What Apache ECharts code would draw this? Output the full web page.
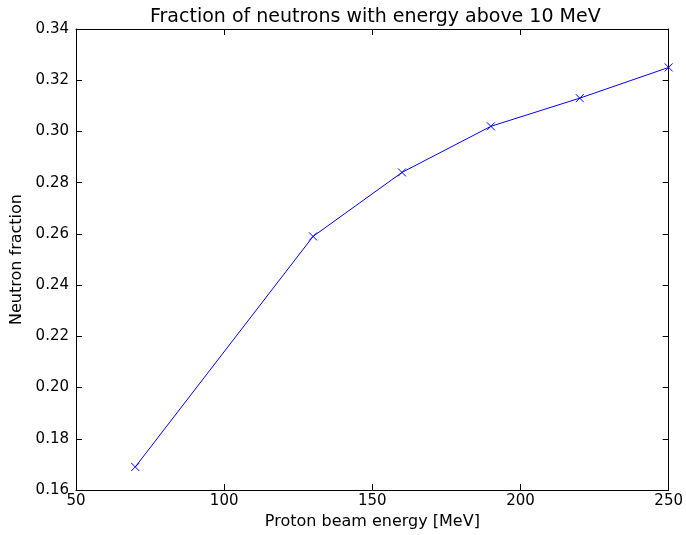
<!DOCTYPE html>
<html><head><meta charset="utf-8">
<script src="https://cdn.jsdelivr.net/npm/echarts@6/dist/echarts.min.js"></script>
<style>html,body{margin:0;padding:0;background:#fff}#c{width:686px;height:535px}</style>
</head><body><div id="c"></div>
<script>
const energies = [70, 130, 160, 190, 220, 250];
const fractions = [0.169, 0.259, 0.284, 0.302, 0.313, 0.325];
const title = 'Fraction of neutrons with energy above 10 MeV';
const xName = 'Proton beam energy [MeV]';
const yName = 'Neutron fraction';

const font = 'DejaVu Sans';
const chart = echarts.init(document.getElementById('c'), null, {renderer: 'canvas'});
const xSymbol = 'path://M0,0L10,10M10,0L0,10';
const axisLine = {show: true, onZero: false, lineStyle: {color: '#000', width: 1}};
const tickIn = {show: true, inside: true, length: 6, lineStyle: {color: '#000'}};
chart.setOption({
  animation: false,
  title: {text: title, left: 145, top: 3, textStyle: {fontFamily: font, fontSize: 19, fontWeight: 'normal', color: '#000'}},
  grid: {left: 76, right: 14, top: 29, bottom: 44},
  xAxis: [
    {type: 'value', min: 50, max: 250, interval: 50, position: 'bottom',
     name: xName, nameLocation: 'middle', nameGap: 24,
     nameTextStyle: {fontFamily: font, fontSize: 16, color: '#000'},
     axisLine: axisLine, axisTick: tickIn, splitLine: {show: false},
     axisLabel: {fontFamily: font, fontSize: 15, color: '#000', margin: 4}},
    {type: 'value', min: 50, max: 250, interval: 50, position: 'top',
     axisLine: axisLine, axisTick: tickIn, splitLine: {show: false}, axisLabel: {show: false}}
  ],
  yAxis: [
    {type: 'value', min: 0.16, max: 0.34, interval: 0.02, position: 'left',
     name: yName, nameLocation: 'middle', nameGap: 50,
     nameTextStyle: {fontFamily: font, fontSize: 16, color: '#000'},
     axisLine: axisLine, axisTick: tickIn, splitLine: {show: false},
     axisLabel: {fontFamily: font, fontSize: 15, color: '#000', margin: 7, formatter: v => v.toFixed(2)}},
    {type: 'value', min: 0.16, max: 0.34, interval: 0.02, position: 'right',
     axisLine: axisLine, axisTick: tickIn, splitLine: {show: false}, axisLabel: {show: false}}
  ],
  series: [{
    type: 'line', xAxisIndex: 0, yAxisIndex: 0,
    data: energies.map((e, i) => [e, fractions[i]]),
    lineStyle: {color: '#0000ff', width: 1},
    itemStyle: {color: 'none', borderColor: '#0000ff', borderWidth: 1},
    symbol: xSymbol, symbolSize: 8, showAllSymbol: true,
    emphasis: {disabled: true}, clip: false
  }]
});
</script></body></html>
